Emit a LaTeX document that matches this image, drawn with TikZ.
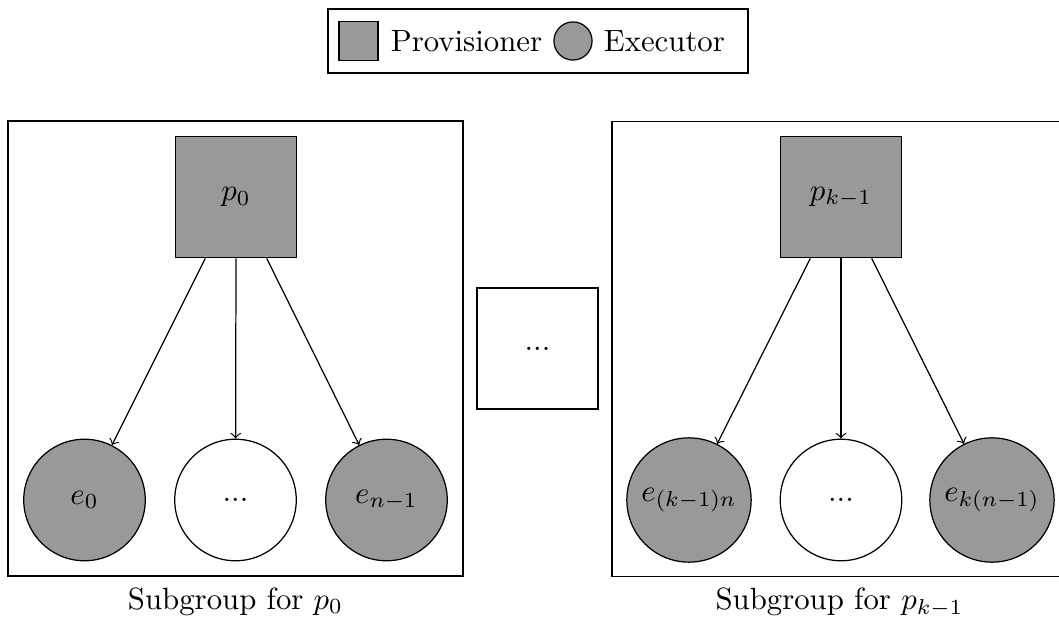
\documentclass[tikz,border=0pt]{standalone}
\usetikzlibrary{calc}
\definecolor{nodegray}{RGB}{153,153,153}
\begin{document}
\begin{tikzpicture}[x=0.325pt,y=-0.325pt,
  prov/.style={draw,fill=nodegray,minimum size=39.5pt,inner sep=0pt},
  exec/.style={draw,circle,fill=nodegray,minimum size=39.5pt,inner sep=0pt},
  wideexec/.style={exec,minimum size=40.4pt},
  hidden/.style={draw,circle,fill=white,minimum size=39.5pt,inner sep=0pt},
  group/.style={draw,minimum width=147.9pt,minimum height=147.9pt,inner sep=0pt},
  gapbox/.style={draw,minimum size=39.3pt,inner sep=0pt},
  link/.style={->}]
\useasboundingbox (0,0) rectangle (1059,621);
\clip (0,0) rectangle (1059,621);

% legend
\node[draw,minimum width=136.5pt,minimum height=20.8pt,inner sep=0pt] (legend) at (538,41) {};
\node[draw,fill=nodegray,minimum size=12.7pt,inner sep=0pt] (lgsq) at (358.5,41) {};
\node[anchor=west] (lgprov) at (380,41) {Provisioner};
\node[draw,circle,fill=nodegray,minimum size=12.4pt,inner sep=0pt] (lgci) at (573,41) {};
\node[anchor=west] (lgexec) at (593,41) {Executor};

% first subgroup
\node[group] (g0) at (235.5,348.5) {};
\node[prov] (p0) at (236,197) {$p_0$};
\node[exec] (e0) at (84.5,500) {$e_0$};
\node[hidden] (d0) at (235.5,500) {...};
\node[exec] (e1) at (386.5,500) {$e_{n-1}$};
\node[anchor=north] (l0) at (g0.south) {Subgroup for $p_0$};
\draw[link] ($(p0.south west)!0.25!(p0.south east)$) -- (e0);
\draw[link] (p0.south) -- (d0);
\draw[link] ($(p0.south west)!0.75!(p0.south east)$) -- (e1);

% elided subgroups
\node[gapbox] (gap) at (537.5,348.5) {...};

% last subgroup
\node[group] (gk) at (839.5,349) {};
\node[prov] (pk) at (841,197) {$p_{k-1}$};
\node[wideexec] (ek0) at (689,500) {$e_{(k-1)n}$};
\node[hidden] (dk) at (841,500) {...};
\node[wideexec] (ek1) at (992,500) {$e_{k(n-1)}$};
\node[anchor=north] (lk) at (gk.south) {Subgroup for $p_{k-1}$};
\draw[link] ($(pk.south west)!0.25!(pk.south east)$) -- (ek0);
\draw[link] (pk.south) -- (dk);
\draw[link] ($(pk.south west)!0.75!(pk.south east)$) -- (ek1);
\end{tikzpicture}
\end{document}
